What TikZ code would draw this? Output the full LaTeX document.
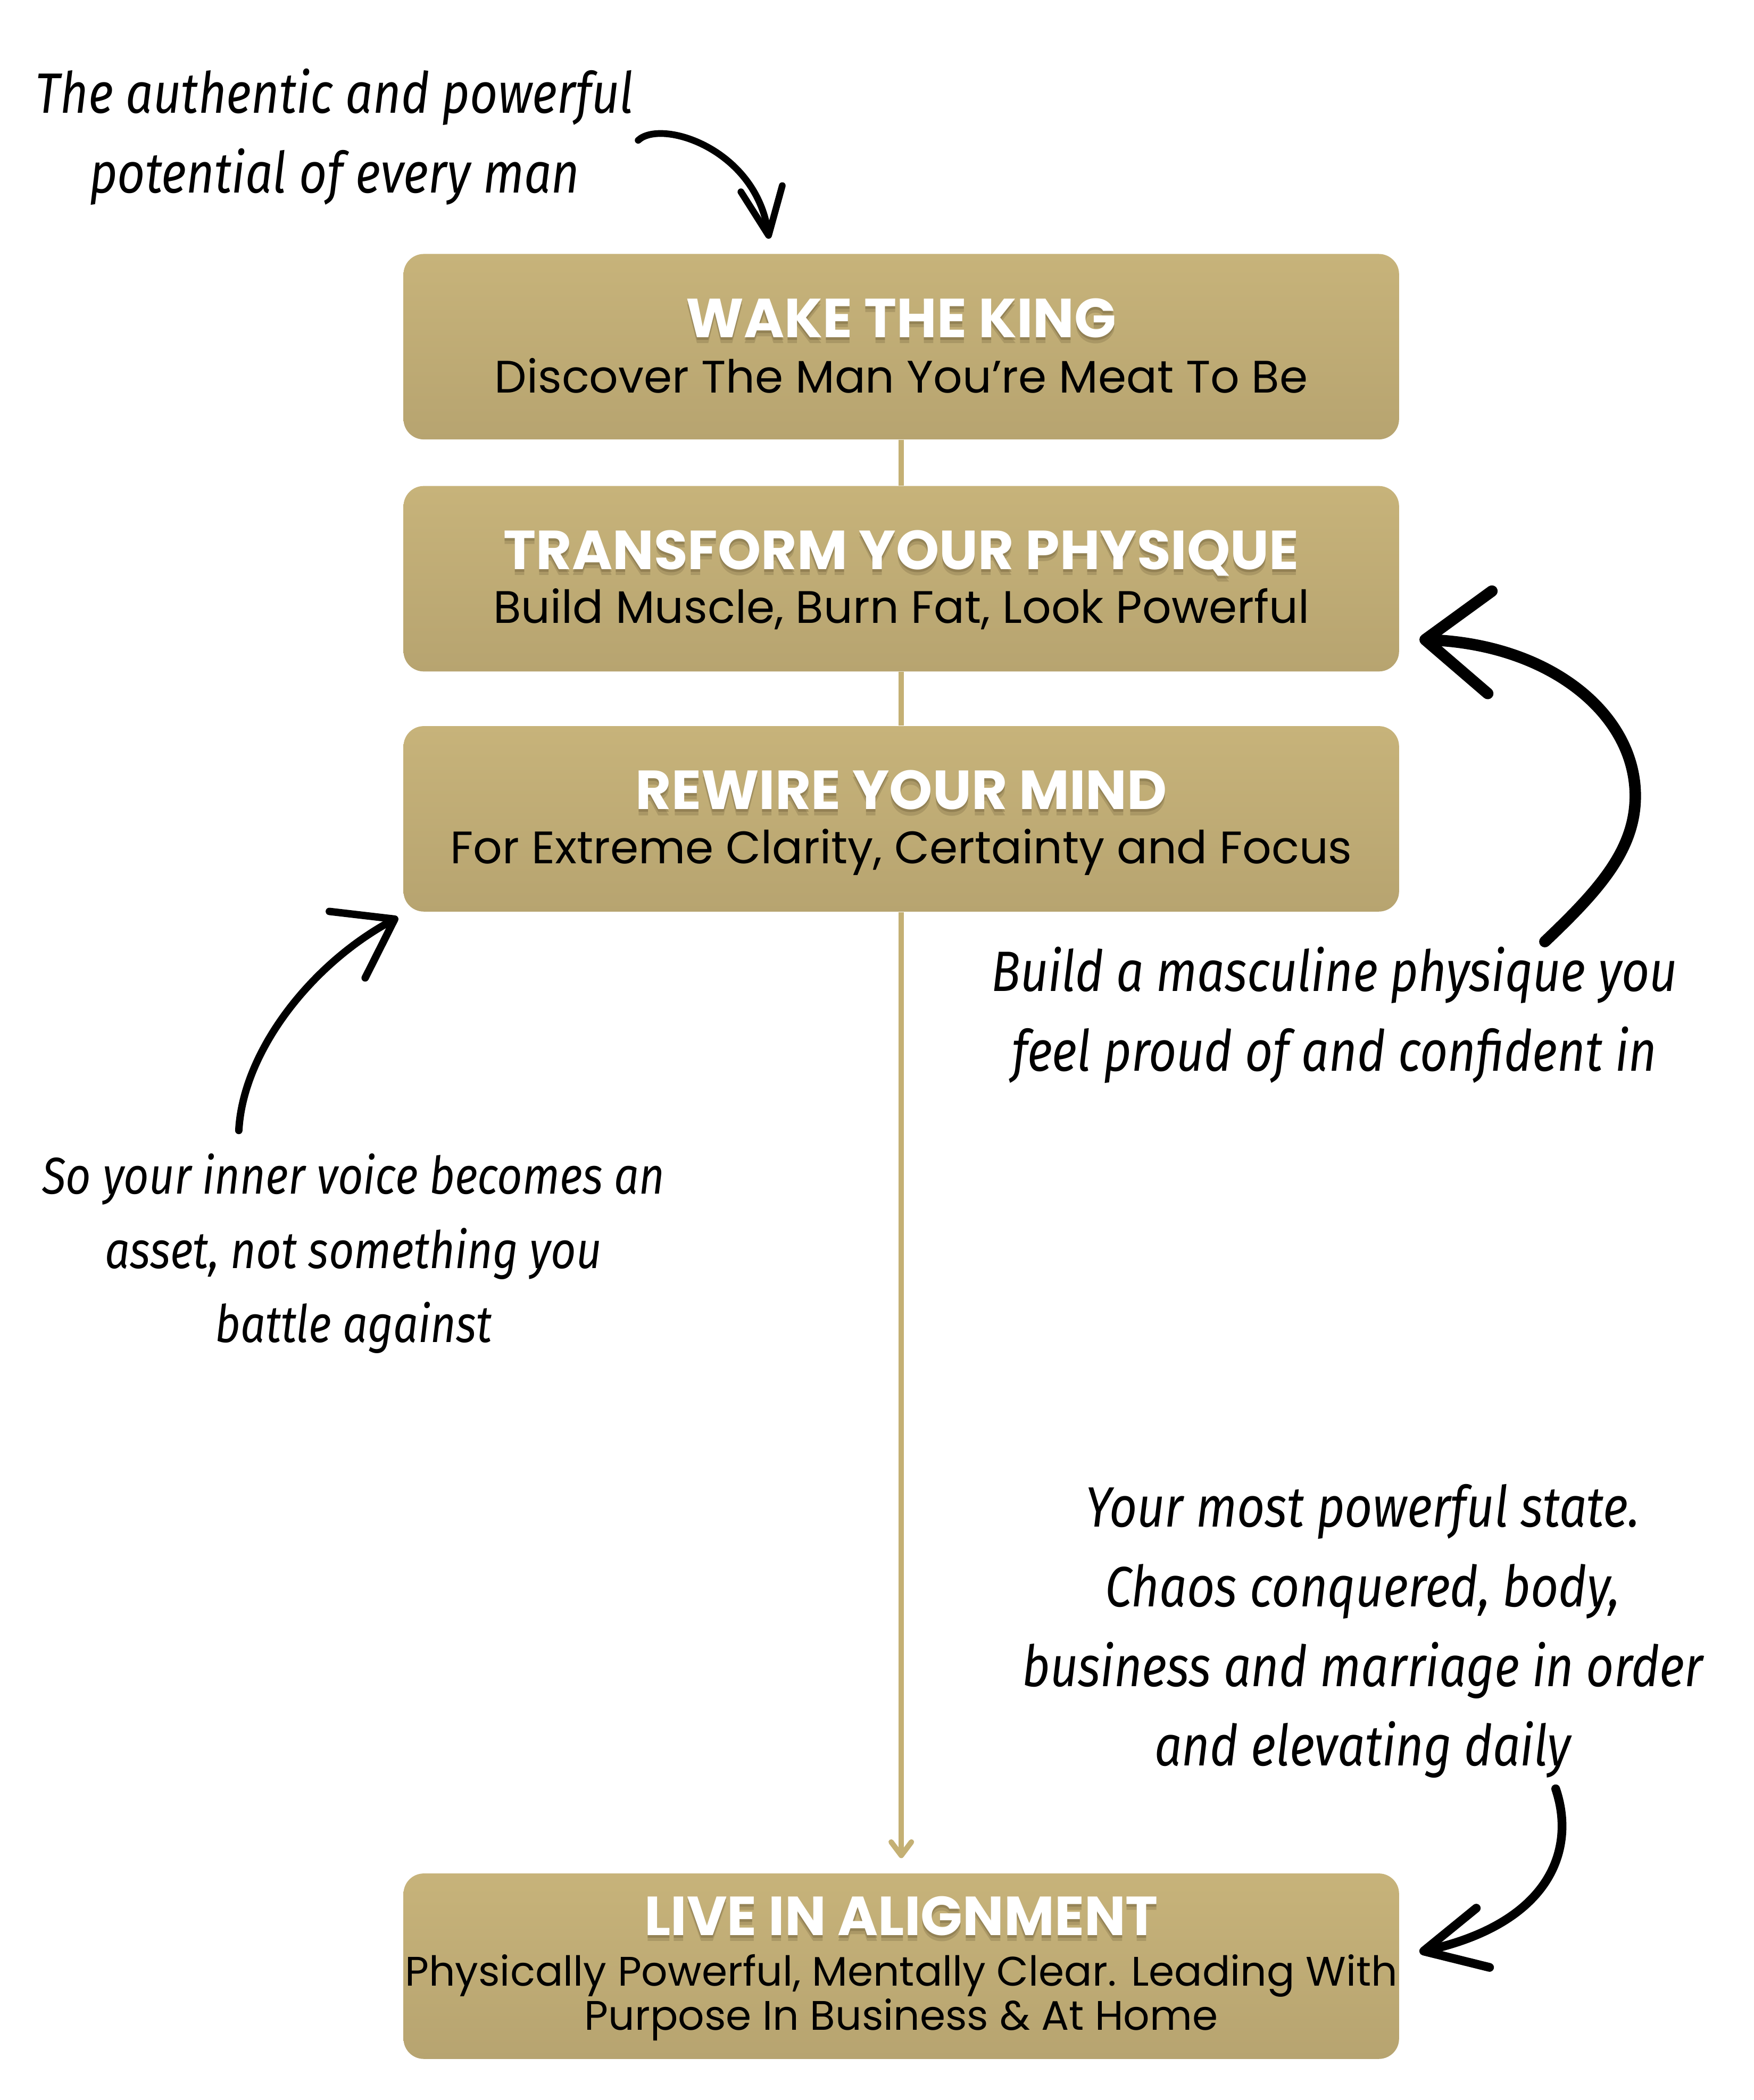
\documentclass[tikz,border=0pt]{standalone}
\usepackage{fontspec}
\usetikzlibrary{arrows.meta,positioning}
\newfontfamily\boxfont{Poppins}
\newfontfamily\handfont{Fira Sans}[ItalicFeatures={FakeStretch=0.85}]
\definecolor{goldtop}{RGB}{199,179,122}
\definecolor{goldbot}{RGB}{183,164,112}
\definecolor{goldline}{RGB}{196,176,116}
\definecolor{shadowbrown}{RGB}{105,90,55}
\tikzset{
  stage/.style = {rounded corners = .3cm, top color = goldtop, bottom color = goldbot,
                  minimum width = 14.76cm, minimum height = 2.75cm, inner sep = 0pt},
  stagetitle/.style = {anchor = base, text = white, inner sep = 0pt,
                       font = \boxfont\bfseries\fontsize{23.2}{26}\selectfont},
  stagesub/.style = {anchor = base, inner sep = 0pt, align = center,
                     font = \boxfont\fontsize{19.2}{18.8}\selectfont},
  note/.style = {anchor = base, inner sep = 0pt, align = center,
                 font = \handfont\itshape\fontsize{24}{33.6}\selectfont},
  goldlink/.style = {draw = goldline, line width = .08cm},
  handarrow/.style = {line width = #1, line cap = round}
}
% title with its soft shadow
\newcommand\stagetitle[4]{%
  \node[stagetitle, text = shadowbrown, opacity = .25, yshift = -.09cm] (#1S2) at (#2,#3) {#4};
  \node[stagetitle, text = shadowbrown, opacity = .35, yshift = -.04cm] (#1S1) at (#2,#3) {#4};
  \node[stagetitle] (#1T) at (#2,#3) {#4};
}
\begin{document}
\begin{tikzpicture}[x = .02cm, y = -.02cm]
\useasboundingbox (0,0) rectangle (1300,1556.7);

% the four stages
\node[stage] (wake) at (668,257) {};
\node[stage] (physique) at (668,429) {};
\node[stage] (mind) at (668,607) {};
\node[stage] (align) at (668,1457.5) {};

\draw[goldlink] (wake) -- (physique);
\draw[goldlink] (physique) -- (mind);
\draw[goldlink, -{Straight Barb[length=.2cm, width=.3cm, round]}, shorten > = .22cm] (mind) -- (align);

\stagetitle{wake}{668}{250}{WAKE THE KING}
\node[stagesub] (wakeD) at (668,291) {Discover The Man You’re Meat To Be};
\stagetitle{physique}{668}{422}{TRANSFORM YOUR PHYSIQUE}
\node[stagesub] (physiqueD) at (668,462) {Build Muscle, Burn Fat, Look Powerful};
\stagetitle{mind}{668}{600}{REWIRE YOUR MIND}
\node[stagesub] (mindD) at (668,640) {For Extreme Clarity, Certainty and Focus};
\stagetitle{align}{668}{1434.5}{LIVE IN ALIGNMENT}
\node[stagesub, font = \boxfont\fontsize{17.4}{18.8}\selectfont] (alignD) at (668,1505)
  {Physically Powerful, Mentally Clear. Leading With\\Purpose In Business \& At Home};

% hand written notes
\node[note] (potential) at (248,143) {The authentic and powerful\\potential of every man};
\node[note] (physnote) at (989,794) {Build a masculine physique you\\feel proud of and confident in};
\node[note, font = \handfont\itshape\fontsize{21.8}{31.3}\selectfont] (voice) at (262,995)
  {So your inner voice becomes an\\asset, not something you\\battle against};
\node[note] (state) at (1010,1309) {Your most powerful state.\\Chaos conquered, body,\\business and marriage in order\\and elevating daily};

\coordinate (a1s) at (473,104);
\coordinate (a1e) at (570,177);
\coordinate (a2s) at (1145,698);
\coordinate (a2e) at (1052,474);
\coordinate (a3s) at (177,838);
\coordinate (a3e) at (295,680);
\coordinate (a4s) at (1153,1326);
\coordinate (a4e) at (1052,1447);

\draw[handarrow = .1cm, -{Straight Barb[length=.7cm, width=.62cm, round]}]
  (a1s) .. controls (490,88) and (560,110) .. (a1e);
\draw[handarrow = .17cm, -{Straight Barb[length=.96cm, width=1.52cm, round]}]
  (a2s) .. controls (1185,660) and (1212,630) .. (1212,590) .. controls (1212,530) and (1150,478) .. (a2e);
\draw[handarrow = .11cm, -{Straight Barb[length=.8cm, width=1.12cm, round]}]
  (a3s) .. controls (180,780) and (230,715) .. (a3e);
\draw[handarrow = .13cm, -{Straight Barb[length=.9cm, width=.9cm, round]}]
  (a4s) .. controls (1168,1370) and (1150,1425) .. (a4e);
\end{tikzpicture}
\end{document}
